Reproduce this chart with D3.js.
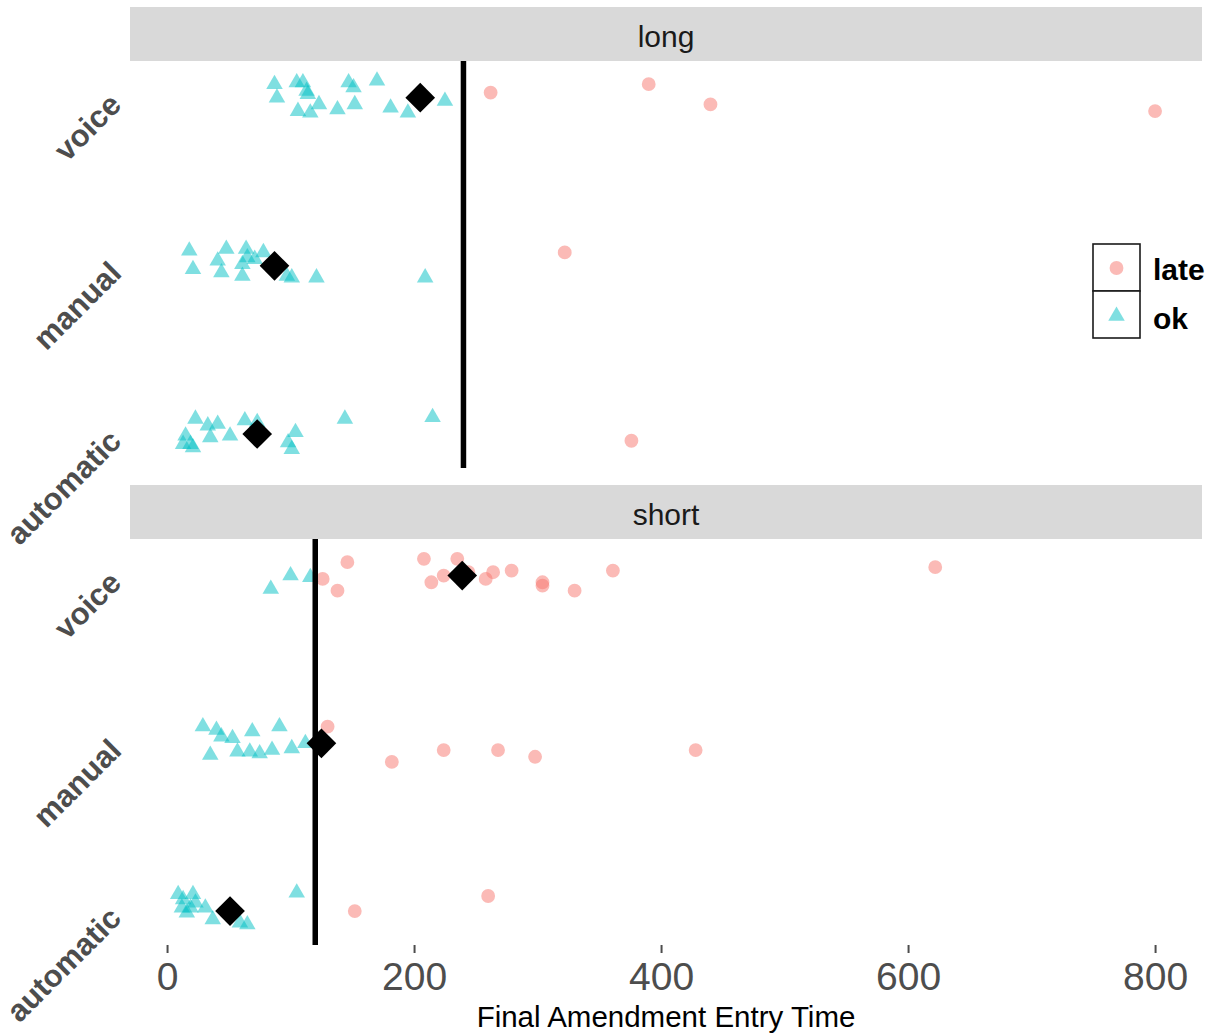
<!DOCTYPE html>
<html>
<head>
<meta charset="utf-8">
<script src="https://cdn.jsdelivr.net/npm/d3@7"></script>
<style>
  body { margin: 0; background: #fff; }
  svg { display: block; font-family: "Liberation Sans", Arial, sans-serif; }
</style>
</head>
<body>
<svg width="1217" height="1034"></svg>
<script>
// facets, categories and legend levels
var panels = ["long", "short"];
var methods = ["automatic", "manual", "voice"];
var statuses = ["late", "ok"];
var xTicks = [0, 200, 400, 600, 800];

// cutoff line per panel and the mean diamond per panel/method
var cutoffs = [240, 120];
var longMeans = [73, 87, 205];   // automatic, manual, voice
var shortMeans = [51, 125, 239];

// points: [entry time, vertical jitter in category units]
var longVoiceOk = [[87,0.08],[89,0],[105,0.09],[110,0.09],[113,0.04],[114,0.02],[106,-0.08],[116,-0.09],[123,-0.04],[138,-0.07],[147,0.09],[151,0.06],[152,-0.04],[170,0.10],[181,-0.06],[195,-0.09],[225,-0.02]];
var longVoiceLate = [[262,0.03],[390,0.08],[440,-0.04],[800,-0.08]];
var longManualOk = [[18,0.09],[21,-0.02],[48,0.10],[41,0.03],[44,-0.04],[64,0.10],[65,0.05],[61,0.01],[61,-0.06],[78,0.08],[71,0.04],[97,-0.06],[101,-0.07],[121,-0.07],[209,-0.07]];
var longManualLate = [[322,0.08]];
var longAutoOk = [[23,0.09],[15,-0.01],[13,-0.06],[19,-0.06],[21,-0.08],[33,0.05],[35,-0.02],[41,0.06],[51,-0.01],[63,0.08],[73,0.07],[104,0.01],[98,-0.05],[101,-0.09],[144,0.09],[215,0.10]];
var longAutoLate = [[376,-0.04]];
var shortVoiceOk = [[84,-0.08],[100,0],[116,-0.01]];
var shortVoiceLate = [[146,0.08],[126,-0.02],[138,-0.09],[208,0.10],[235,0.10],[214,-0.04],[224,0.0],[258,-0.02],[264,0.02],[279,0.03],[304,-0.04],[304,-0.06],[330,-0.09],[361,0.03],[622,0.05],[244,0.02]];
var shortManualOk = [[29,0.10],[40,0.08],[44,0.04],[53,0.03],[35,-0.07],[57,-0.05],[67,-0.05],[75,-0.06],[85,-0.04],[69,0.07],[91,0.10],[101,-0.03],[112,0.0]];
var shortManualLate = [[130,0.10],[182,-0.11],[224,-0.04],[268,-0.04],[298,-0.08],[428,-0.04]];
var shortAutoOk = [[9,0.10],[13,0.07],[21,0.10],[12,0.02],[19,0.02],[23,0.05],[31,0.02],[37,-0.05],[59,-0.07],[65,-0.08],[105,0.11],[16,-0.01]];
var shortAutoLate = [[152,0.00],[260,0.09]];

var groups = [
  ["long", "voice", "ok", longVoiceOk], ["long", "voice", "late", longVoiceLate],
  ["long", "manual", "ok", longManualOk], ["long", "manual", "late", longManualLate],
  ["long", "automatic", "ok", longAutoOk], ["long", "automatic", "late", longAutoLate],
  ["short", "voice", "ok", shortVoiceOk], ["short", "voice", "late", shortVoiceLate],
  ["short", "manual", "ok", shortManualOk], ["short", "manual", "late", shortManualLate],
  ["short", "automatic", "ok", shortAutoOk], ["short", "automatic", "late", shortAutoLate]
];
var rows = [];
groups.forEach(function(g) {
  g[3].forEach(function(p) {
    rows.push({panel: g[0], method: g[1], status: g[2], time: p[0], jitter: p[1]});
  });
});
var means = [];
methods.forEach(function(m, i) {
  means.push({panel: "long", method: m, time: longMeans[i]});
  means.push({panel: "short", method: m, time: shortMeans[i]});
});

var svg = d3.select("svg");
var left = 130, right = 1202;
var layout = {
  long:  {stripTop: 7, top: 61, bottom: 468},
  short: {stripTop: 485, top: 539, bottom: 945}
};

var x = d3.scaleLinear().domain([-30, 838]).range([left, right]);
var color = d3.scaleOrdinal().domain(statuses).range(["#F8766D", "#00BFC4"]);
var shape = d3.scaleOrdinal().domain(statuses).range([d3.symbolCircle, d3.symbolTriangle]);
var size = d3.scaleOrdinal().domain(statuses).range([150, 118]);

function catValue(m) { return methods.indexOf(m) + 1; }

panels.forEach(function(p, pi) {
  var L = layout[p];
  var y = d3.scaleLinear().domain([0.798, 3.218]).range([L.bottom, L.top]);
  var g = svg.append("g").attr("class", "panel-" + p);

  // strip
  g.append("rect")
      .attr("x", left).attr("y", L.stripTop)
      .attr("width", right - left).attr("height", L.top - L.stripTop)
      .attr("fill", "#d9d9d9");
  g.append("text")
      .attr("x", (left + right) / 2)
      .attr("y", L.stripTop + 40)
      .attr("text-anchor", "middle")
      .attr("font-size", 30)
      .attr("fill", "#1a1a1a")
      .text(p);

  // y labels
  methods.forEach(function(m) {
    var yy = y(catValue(m));
    g.append("text")
        .attr("transform", "translate(123," + (yy + 9) + ") rotate(-45)")
        .attr("text-anchor", "end")
        .attr("font-size", 31)
        .attr("font-weight", "bold")
        .attr("fill", "#4d4d4d")
        .text(m);
  });

  // points
  g.append("g").selectAll("path")
    .data(rows.filter(function(d) { return d.panel === p; }))
    .enter().append("path")
      .attr("transform", function(d) { return "translate(" + x(d.time) + "," + y(catValue(d.method) + d.jitter) + ")"; })
      .attr("d", function(d) { return d3.symbol().type(shape(d.status)).size(size(d.status))(); })
      .attr("fill", function(d) { return color(d.status); })
      .attr("fill-opacity", 0.5);

  // cutoff line
  g.append("line")
      .attr("x1", x(cutoffs[pi])).attr("x2", x(cutoffs[pi]))
      .attr("y1", L.top).attr("y2", L.bottom)
      .attr("stroke", "#000")
      .attr("stroke-width", 5.5);

  // means
  g.append("g").selectAll("path")
    .data(means.filter(function(d) { return d.panel === p; }))
    .enter().append("path")
      .attr("transform", function(d) { return "translate(" + x(d.time) + "," + y(catValue(d.method)) + ") rotate(45)"; })
      .attr("d", d3.symbol().type(d3.symbolSquare).size(440)())
      .attr("fill", "#000");
});

// x axis (bottom panel only)
var axis = svg.append("g").attr("transform", "translate(0," + layout.short.bottom + ")")
    .call(d3.axisBottom(x).tickValues(xTicks).tickSize(8).tickPadding(9).tickFormat(d3.format("d")));
axis.select(".domain").remove();
axis.selectAll(".tick line").attr("stroke", "#4d4d4d").attr("stroke-width", 2);
axis.selectAll(".tick text")
    .attr("font-family", "Liberation Sans, Arial, sans-serif")
    .attr("font-size", 39)
    .attr("fill", "#4d4d4d")
    .attr("dy", "0.71em");

svg.append("text")
    .attr("x", (left + right) / 2)
    .attr("y", 1027)
    .attr("text-anchor", "middle")
    .attr("font-size", 29.5)
    .attr("fill", "#000")
    .text("Final Amendment Entry Time");

// legend
var legend = svg.append("g").attr("transform", "translate(1093,244)");
statuses.forEach(function(s, i) {
  var k = legend.append("g").attr("transform", "translate(0," + (i * 47) + ")");
  k.append("rect")
      .attr("width", 47).attr("height", 47)
      .attr("fill", "#fff")
      .attr("stroke", "#1a1a1a")
      .attr("stroke-width", 1.6);
  k.append("path")
      .attr("transform", "translate(23.5," + (i === 0 ? 24 : 25) + ")")
      .attr("d", d3.symbol().type(shape(s)).size(size(s))())
      .attr("fill", color(s))
      .attr("fill-opacity", 0.5);
  k.append("text")
      .attr("x", 60)
      .attr("y", i === 0 ? 36 : 38)
      .attr("font-size", 30)
      .attr("font-weight", "bold")
      .attr("fill", "#000")
      .text(s);
});
</script>
</body>
</html>
